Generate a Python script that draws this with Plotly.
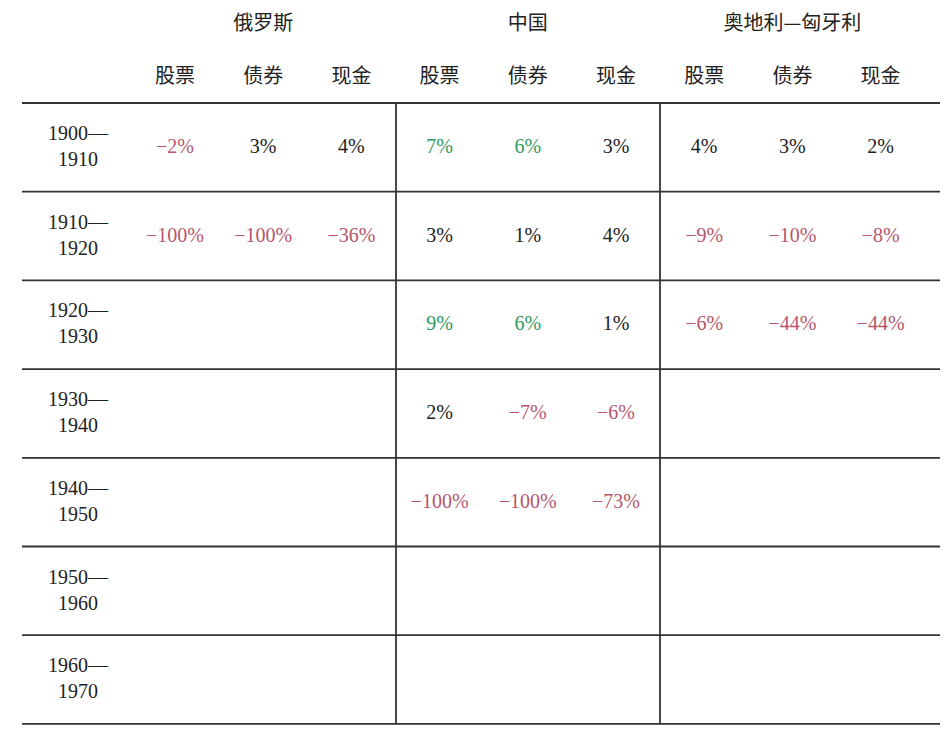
import plotly.graph_objects as go

countries = ["俄罗斯", "中国", "奥地利—匈牙利"]
assets = ["股票", "债券", "现金"]
decades = ["1900—<br>1910", "1910—<br>1920", "1920—<br>1930", "1930—<br>1940",
           "1940—<br>1950", "1950—<br>1960", "1960—<br>1970"]
russia_stocks = [-2, -100]
russia_bonds = [3, -100]
russia_cash = [4, -36]
china_stocks = [7, 3, 9, 2, -100]
china_bonds = [6, 1, 6, -7, -100]
china_cash = [3, 4, 1, -6, -73]
austria_stocks = [4, -9, -6]
austria_bonds = [3, -10, -44]
austria_cash = [2, -8, -44]
# (column index, row index) of values shown in green
highlight = [(3, 0), (4, 0), (3, 2), (4, 2)]

series = [russia_stocks, russia_bonds, russia_cash, china_stocks, china_bonds,
          china_cash, austria_stocks, austria_bonds, austria_cash]

RED, GREEN, BLACK = "#b5566b", "#2f9a5c", "#222222"
x0, dx = 175, 88.2
row_y0, dy = 148, 88.7
line_y0 = 103

xs, ys, txt, cols = [], [], [], []
for c, s in enumerate(series):
    for r, v in enumerate(s):
        xs.append(x0 + c * dx)
        ys.append(row_y0 + r * dy)
        txt.append(("−" if v < 0 else "") + f"{abs(v)}%")
        cols.append(GREEN if (c, r) in highlight else (RED if v < 0 else BLACK))

fig = go.Figure()
fig.add_trace(go.Scatter(x=xs, y=ys, mode="text", text=txt,
                         textfont=dict(family="Liberation Serif", size=20, color=cols),
                         hoverinfo="skip"))
fig.add_trace(go.Scatter(x=[78] * len(decades), y=[row_y0 + i * dy for i in range(len(decades))],
                         mode="text", text=decades,
                         textfont=dict(family="Liberation Serif", size=20, color=BLACK),
                         hoverinfo="skip"))
fig.add_trace(go.Scatter(x=[x0 + (3 * i + 1) * dx for i in range(3)], y=[25] * 3, mode="text",
                         text=countries,
                         textfont=dict(family="Noto Sans CJK SC", size=20, color=BLACK),
                         hoverinfo="skip"))
fig.add_trace(go.Scatter(x=[x0 + i * dx for i in range(9)], y=[78] * 9, mode="text",
                         text=assets * 3,
                         textfont=dict(family="Noto Sans CJK SC", size=20, color=BLACK),
                         hoverinfo="skip"))

shapes = []
for i in range(len(decades) + 1):
    y = line_y0 + i * dy
    shapes.append(dict(type="line", x0=22, x1=940, y0=y, y1=y,
                       line=dict(color="#333", width=1.8)))
for xv in [396, 660]:
    shapes.append(dict(type="line", x0=xv, x1=xv, y0=line_y0, y1=line_y0 + len(decades) * dy,
                       line=dict(color="#333", width=1.8)))

fig.update_layout(width=950, height=742, margin=dict(l=0, r=0, t=0, b=0),
                  plot_bgcolor="white", paper_bgcolor="white", showlegend=False,
                  shapes=shapes,
                  xaxis=dict(range=[8, 958], visible=False, fixedrange=True),
                  yaxis=dict(range=[750, 8], visible=False, fixedrange=True))
fig.write_html("out.html")
